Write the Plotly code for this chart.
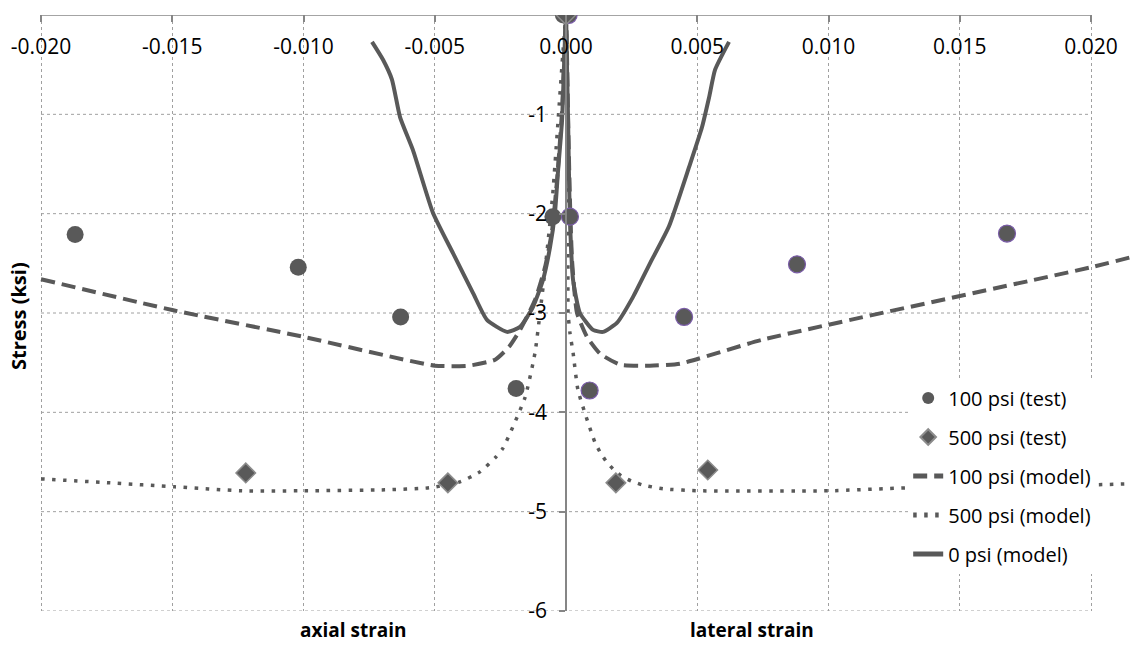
import plotly.graph_objects as go

# ---- data (strain, stress ksi) ----
test100_axial_x = [-0.0187, -0.0102, -0.0063, -0.0019, -0.0005, -0.0001]
test100_axial_y = [-2.21, -2.54, -3.04, -3.76, -2.03, 0.0]
test100_lat_x = [0.0001, 0.00015, 0.0009, 0.0045, 0.0088, 0.0168]
test100_lat_y = [0.0, -2.03, -3.78, -3.04, -2.51, -2.20]

test500_x = [-0.0122, -0.0045, 0.0, 0.0019, 0.0054]
test500_y = [-4.61, -4.71, 0.0, -4.71, -4.58]

model100_x = [-0.020, -0.0150, -0.0100, -0.0050, -0.0037, -0.0027, -0.00217, -0.00175,
              -0.00118, -0.0008, -0.00053, -0.00034, -0.00015, 0.0,
              0.00008, 0.00015, 0.00023, 0.00042, 0.0008, 0.0013, 0.00206, 0.0032,
              0.00434, 0.00747, 0.0200, 0.0215]
model100_y = [-2.66, -2.97, -3.24, -3.53, -3.53, -3.47, -3.34, -3.17,
              -2.87, -2.54, -2.17, -1.66, -0.96, 0.0,
              -1.06, -1.86, -2.47, -3.00, -3.24, -3.41, -3.52, -3.53,
              -3.51, -3.27, -2.54, -2.44]

model500_x = [-0.020, -0.01737, -0.0149, -0.01234, -0.0101, -0.0069, -0.00522, -0.00404,
              -0.00328, -0.00267, -0.0024, -0.00156, -0.00118, -0.00099, -0.0008,
              -0.00061, -0.0005, -0.0003, -0.00011, 0.0,
              0.00004, 0.00008, 0.00008, 0.00015, 0.00027, 0.00046, 0.0011, 0.0013,
              0.00152, 0.00179, 0.0021, 0.00248, 0.0029, 0.0037, 0.0051, 0.0100,
              0.0130, 0.0200, 0.0215]
model500_y = [-4.67, -4.71, -4.75, -4.79, -4.79, -4.78, -4.76, -4.70,
              -4.60, -4.45, -4.36, -3.85, -3.40, -3.00, -2.57,
              -2.09, -1.79, -1.06, -0.35, 0.0,
              -0.86, -1.86, -3.00, -3.20, -3.40, -3.78, -4.30, -4.40,
              -4.49, -4.57, -4.64, -4.69, -4.73, -4.77, -4.79, -4.79,
              -4.76, -4.73, -4.72]

model0_x = [-0.00739, -0.00697, -0.00663, -0.00632, -0.00583, -0.00507, -0.0043, -0.00354,
            -0.00301, -0.00225, -0.00175, -0.00126, -0.00088, -0.00061, -0.00042, -0.0003,
            -0.00015, -0.00008, 0.0,
            0.00004, 0.00008, 0.00011, 0.00015, 0.00027, 0.00053, 0.00103, 0.00141,
            0.00194, 0.00255, 0.0032, 0.00392, 0.00469, 0.00518, 0.00545, 0.00568, 0.00621]
model0_y = [-0.27, -0.45, -0.65, -1.03, -1.36, -1.99, -2.40, -2.80,
            -3.07, -3.19, -3.14, -2.94, -2.67, -2.34, -1.99, -1.56,
            -1.06, -0.55, 0.0,
            -0.55, -1.06, -1.56, -2.06, -2.67, -3.00, -3.17, -3.19,
            -3.10, -2.84, -2.50, -2.13, -1.53, -1.13, -0.83, -0.55, -0.27]

x_ticks = [-0.020, -0.015, -0.010, -0.005, 0.000, 0.005, 0.010, 0.015, 0.020]
y_ticks = [0, -1, -2, -3, -4, -5, -6]

GRAY = "#595959"
FONT = "Open Sans, sans-serif"
W, H = 1131, 646

XMIN, XMAX = -0.021562, 0.021524

fig = go.Figure()

fig.add_trace(go.Scatter(x=model100_x, y=model100_y, mode="lines", name="100 psi (model)",
                         line=dict(color=GRAY, width=4, dash="14px,7px",
                                   shape="spline", smoothing=0.5),
                         legendgroup="c", legendrank=3))
fig.add_trace(go.Scatter(x=model500_x, y=model500_y, mode="lines", name="500 psi (model)",
                         line=dict(color=GRAY, width=3.5, dash="3.5px,7.5px",
                                   shape="spline", smoothing=0.5),
                         legendgroup="d", legendrank=4))
fig.add_trace(go.Scatter(x=model0_x, y=model0_y, mode="lines", name="0 psi (model)",
                         line=dict(color=GRAY, width=4, shape="spline", smoothing=0.5),
                         legendgroup="e", legendrank=5))
fig.add_trace(go.Scatter(x=test100_axial_x, y=test100_axial_y, mode="markers",
                         name="100 psi (test)",
                         marker=dict(symbol="circle", size=17, color=GRAY,
                                     line=dict(width=0)),
                         legendgroup="a", legendrank=1))
fig.add_trace(go.Scatter(x=test100_lat_x, y=test100_lat_y, mode="markers",
                         name="100 psi (test)", showlegend=False,
                         marker=dict(symbol="circle", size=17, color=GRAY,
                                     line=dict(width=1.2, color="#7a5ca8")),
                         legendgroup="a"))
fig.add_trace(go.Scatter(x=test500_x, y=test500_y, mode="markers",
                         name="500 psi (test)",
                         marker=dict(symbol="diamond", size=15, color=GRAY,
                                     line=dict(width=1.5, color="#8c8c8c")),
                         legendgroup="b", legendrank=2))

# horizontal gridlines limited to the x tick span
for yv in y_ticks:
    if yv == 0:
        continue
    fig.add_shape(type="line", xref="x", yref="y", x0=x_ticks[0], x1=x_ticks[-1],
                  y0=yv, y1=yv, line=dict(color="#a0a0a0", width=1, dash="dot"),
                  layer="below")
# x axis line along stress = 0
fig.add_shape(type="line", xref="x", yref="y", x0=x_ticks[0], x1=x_ticks[-1],
              y0=0, y1=0, line=dict(color="#868686", width=1.5), layer="below")

fig.update_xaxes(range=[XMIN, XMAX], side="top", ticklabelposition="inside",
                 tickvals=x_ticks, ticktext=[f"{v:.3f}" for v in x_ticks],
                 ticks="inside", ticklen=7, tickcolor="#868686", tickwidth=1.5,
                 ticklabelstandoff=19,
                 showgrid=True, gridcolor="#a0a0a0", griddash="dot", gridwidth=1,
                 zeroline=False, showline=False,
                 tickfont=dict(family=FONT, size=21, color="black"))
fig.update_yaxes(range=[-6, 0], anchor="free", position=(0 - XMIN) / (XMAX - XMIN),
                 tickvals=y_ticks, ticktext=[str(v) for v in y_ticks],
                 ticks="outside", ticklen=6, tickcolor="#868686", tickwidth=1.5,
                 showgrid=False, zeroline=False, showline=True,
                 linecolor="#868686", linewidth=1.5, ticklabelstandoff=8,
                 tickfont=dict(family=FONT, size=21, color="black"))

fig.add_annotation(text="<b>axial strain</b>", xref="x", yref="paper", x=-0.0081, y=0,
                   yanchor="middle", yshift=-19, showarrow=False,
                   font=dict(family=FONT, size=19, color="black"))
fig.add_annotation(text="<b>lateral strain</b>", xref="x", yref="paper", x=0.0071, y=0,
                   yanchor="middle", yshift=-19, showarrow=False,
                   font=dict(family=FONT, size=19, color="black"))
fig.add_annotation(text="<b>Stress (ksi)</b>", xref="paper", yref="paper", x=18 / W,
                   xanchor="center", y=(611 - 316) / 596, yanchor="middle",
                   textangle=-90, showarrow=False,
                   font=dict(family=FONT, size=20, color="black"))

fig.update_layout(
    width=W, height=H,
    margin=dict(l=0, r=0, t=15, b=35),
    plot_bgcolor="white", paper_bgcolor="white",
    legend=dict(x=0.803, y=0.39, xanchor="left", yanchor="top",
                bgcolor="white", traceorder="grouped", tracegroupgap=10,
                itemsizing="constant",
                font=dict(family=FONT, size=20, color="black")),
)

fig.write_html("out.html", config={"displayModeBar": False},
               post_script="document.body.style.margin='0';")
